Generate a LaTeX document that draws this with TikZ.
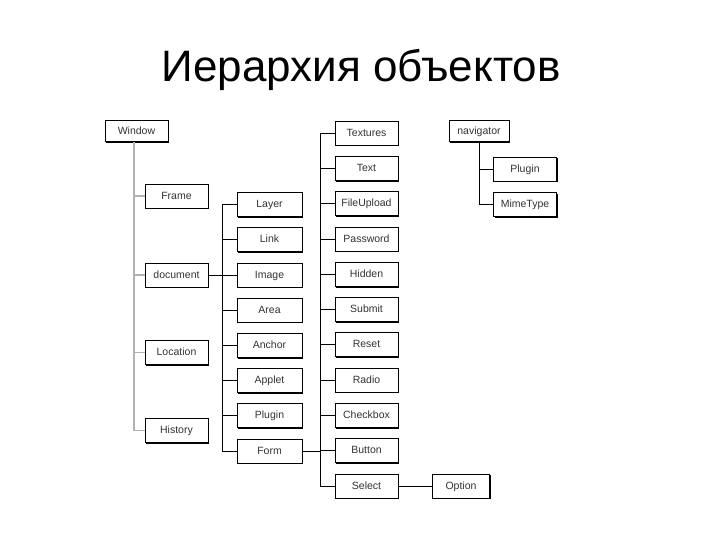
\documentclass[tikz,border=0pt]{standalone}
\usepackage{fontspec}
\setmainfont{Liberation Sans}
\usetikzlibrary{shadows}

\begin{document}
\begin{tikzpicture}[x=1pt, y=-1pt,
    obj/.style={draw, line width=0.7pt, fill=white, inner sep=0pt,
        minimum width=63pt, minimum height=24pt,
        text height=1.6ex, text depth=0.4ex,
        font=\fontsize{10.5}{12}\selectfont, text=black!80,
        drop shadow={shadow xshift=1.3pt, shadow yshift=-1.3pt, fill=black, opacity=1}},
    conn/.style={draw, line width=0.8pt},
    wconn/.style={draw=gray!60, line width=1.4pt}]
    \useasboundingbox (0,0) rectangle (720,540);

    % Title
    \node (title) at (361, 70) {\fontsize{44}{46}\selectfont Иерархия объектов};

    % Window and its children
    \node[obj, minimum height=21pt] (win) at (136.5, 131) {Window};
    \node[obj] (frame) at (176.5, 196) {Frame};
    \node[obj] (doc) at (176.5, 275) {document};
    \node[obj] (loc) at (176.5, 352.5) {Location};
    \node[obj] (hist) at (176.5, 430.5) {History};

    % document children
    \node[obj, minimum width=65pt] (layer) at (269.5, 204.5) {Layer};
    \node[obj, minimum width=65pt] (link) at (269.5, 239.7) {Link};
    \node[obj, minimum width=65pt] (image) at (269.5, 274.9) {Image};
    \node[obj, minimum width=65pt] (area) at (269.5, 310.1) {Area};
    \node[obj, minimum width=65pt] (anchor) at (269.5, 345.3) {Anchor};
    \node[obj, minimum width=65pt] (applet) at (269.5, 380.5) {Applet};
    \node[obj, minimum width=65pt] (plugin) at (269.5, 415.7) {Plugin};
    \node[obj, minimum width=65pt] (form) at (269.5, 450.9) {Form};

    % Form children
    \node[obj] (textures) at (366.5, 133) {Textures};
    \node[obj] (text) at (366.5, 168.3) {Text};
    \node[obj] (upload) at (366.5, 203.6) {FileUpload};
    \node[obj] (passwd) at (366.5, 238.9) {Password};
    \node[obj] (hidden) at (366.5, 274.2) {Hidden};
    \node[obj] (submit) at (366.5, 309.5) {Submit};
    \node[obj] (reset) at (366.5, 344.8) {Reset};
    \node[obj] (radio) at (366.5, 380.1) {Radio};
    \node[obj] (check) at (366.5, 415.4) {Checkbox};
    \node[obj] (button) at (366.5, 450.7) {Button};
    \node[obj] (select) at (366.5, 486) {Select};
    \node[obj, minimum width=57pt] (option) at (461, 486) {Option};

    % navigator
    \node[obj, minimum width=60pt, minimum height=21pt] (nav) at (479, 131) {navigator};
    \node[obj] (navplug) at (525, 169) {Plugin};
    \node[obj] (mime) at (525, 204.5) {MimeType};

    % Window links
    \coordinate (t1) at (134, 0);
    \draw[wconn] (win.south -| t1) -- (hist.west -| t1);
    \foreach \n in {frame, doc, loc, hist}
        \draw[wconn] (\n.west -| t1) -- (\n.west);

    % document links
    \coordinate (t2) at (222, 0);
    \draw[conn] (doc.east) -- (doc.east -| t2);
    \draw[conn] (layer.west -| t2) -- (form.west -| t2);
    \foreach \n in {layer, link, image, area, anchor, applet, plugin, form}
        \draw[conn] (\n.west -| t2) -- (\n.west);

    % Form links
    \coordinate (t3) at (320, 0);
    \draw[conn] (form.east) -- (form.east -| t3);
    \draw[conn] (textures.west -| t3) -- (select.west -| t3);
    \foreach \n in {textures, text, upload, passwd, hidden, submit, reset, radio, check, button, select}
        \draw[conn] (\n.west -| t3) -- (\n.west);
    \draw[conn] (select.east) -- (option.west);

    % navigator links
    \draw[conn] (nav.south) |- (mime.west);
    \draw[conn] (nav.south |- navplug.west) -- (navplug.west);
\end{tikzpicture}
\end{document}
